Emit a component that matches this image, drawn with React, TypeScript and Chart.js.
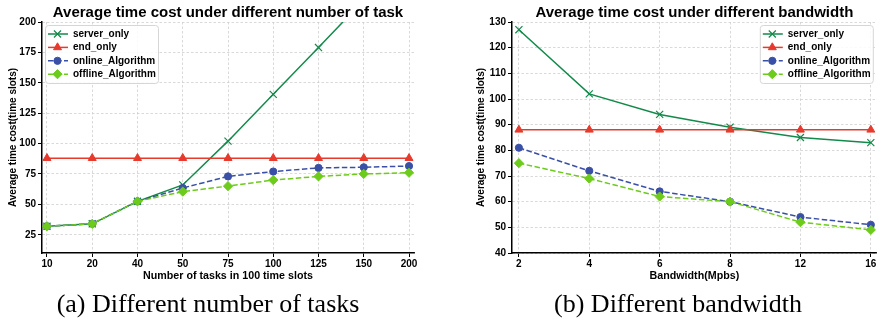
import React, { useEffect, useRef } from 'react';
import { Chart, registerables } from 'chart.js';
import { drawPoint } from 'chart.js/helpers';

Chart.register(...registerables);

// ---------- data: chart (a) ----------
const tasksLabels = ['10', '20', '40', '50', '75', '100', '125', '150', '200'];
const tasksServerOnly = [32, 34, 52.5, 66, 102, 140.5, 179, 218, 260];
const tasksEndOnly = [88, 88, 88, 88, 88, 88, 88, 88, 88];
const tasksOnline = [32, 34, 52.5, 63.5, 73, 77, 80, 80.5, 81.5];
const tasksOffline = [32, 34, 52.5, 60.5, 65, 70, 73, 75, 76];
const tasksYTicks = [25, 50, 75, 100, 125, 150, 175, 200];

// ---------- data: chart (b) ----------
const bwLabels = ['2', '4', '6', '8', '12', '16'];
const bwServerOnly = [127, 102, 94, 89, 85, 83];
const bwEndOnly = [88, 88, 88, 88, 88, 88];
const bwOnline = [81, 72, 64, 60, 54, 51];
const bwOffline = [75, 69, 62, 60, 52, 49];
const bwYTicks = [40, 50, 60, 70, 80, 90, 100, 110, 120, 130];

const seriesNames = ['server_only', 'end_only', 'online_Algorithm', 'offline_Algorithm'];

const SANS = '"Liberation Sans", Arial, sans-serif';

const STYLES = [
  { color: '#138a4b', pointStyle: 'crossRot', radius: 5, dash: [], order: 3, pbw: 1.2 },
  { color: '#e8392d', pointStyle: 'triangle', radius: 4.6, dash: [], order: 2, pbw: 1 },
  { color: '#3a50a6', pointStyle: 'circle', radius: 3.6, dash: [5.5, 2.5], order: 1, pbw: 1 },
  { color: '#6ccb1b', pointStyle: 'rectRot', radius: 4.6, dash: [5.5, 2.5], order: 0, pbw: 1 },
];

const boxLegend = {
  id: 'boxLegend',
  afterDraw(chart: any, _args: any, o: any) {
    const { ctx, chartArea } = chart;
    const w = 113;
    const h = 58;
    const x0 = o.align === 'left' ? chartArea.left + 3 : chartArea.right - 4 - w;
    const y0 = chartArea.top + 3;
    ctx.save();
    ctx.beginPath();
    if (ctx.roundRect) ctx.roundRect(x0 + 0.5, y0 + 0.5, w, h, 3);
    else ctx.rect(x0 + 0.5, y0 + 0.5, w, h);
    ctx.fillStyle = 'rgba(255,255,255,0.85)';
    ctx.fill();
    ctx.strokeStyle = '#d6d6d6';
    ctx.lineWidth = 1;
    ctx.stroke();
    chart.data.datasets.forEach((ds: any, i: number) => {
      const cy = y0 + 9 + i * 13.4;
      ctx.strokeStyle = ds.borderColor;
      ctx.lineWidth = ds.borderWidth;
      ctx.setLineDash(ds.borderDash || []);
      ctx.beginPath();
      ctx.moveTo(x0 + 3, cy);
      ctx.lineTo(x0 + 23, cy);
      ctx.stroke();
      ctx.setLineDash([]);
      ctx.fillStyle = ds.pointBackgroundColor;
      ctx.strokeStyle = ds.pointBorderColor;
      ctx.lineWidth = ds.pointBorderWidth;
      drawPoint(ctx, { pointStyle: ds.pointStyle, radius: ds.pointRadius, borderWidth: ds.pointBorderWidth, rotation: 0 }, x0 + 12.5, cy);
      ctx.fillStyle = '#000';
      ctx.font = 'bold 10px ' + SANS;
      ctx.textBaseline = 'middle';
      ctx.textAlign = 'left';
      ctx.fillText(ds.label, x0 + 28, cy);
    });
    ctx.restore();
  },
};

function makeConfig(p: any) {
  const series = [p.server, p.end, p.online, p.offline];
  const datasets = series.map((vals: number[], si: number) => {
    const s = STYLES[si];
    return {
      label: seriesNames[si],
      data: vals.map((v, i) => ({ x: i, y: v })),
      borderColor: s.color,
      backgroundColor: s.color,
      borderWidth: 1.5,
      borderDash: s.dash,
      pointStyle: s.pointStyle,
      pointRadius: s.radius,
      pointBackgroundColor: s.color,
      pointBorderColor: s.color,
      pointBorderWidth: s.pbw,
      tension: 0,
      order: s.order,
      fill: false,
    };
  });
  const labels: string[] = p.labels;
  const yTicks: number[] = p.yTicks;
  return {
    type: 'line',
    data: { datasets },
    plugins: [boxLegend],
    options: {
      animation: false,
      responsive: false,
      devicePixelRatio: 1,
      layout: { padding: { left: 0, right: p.padRight, top: 0, bottom: 0 } },
      plugins: {
        legend: { display: false },
        tooltip: { enabled: false },
        title: {
          display: true,
          text: p.title,
          color: '#000',
          fullSize: false,
          font: { family: SANS, size: 15, weight: 'bold' },
          padding: { top: 4, bottom: 0 },
        },
        boxLegend: { align: p.legendAlign },
      },
      scales: {
        x: {
          type: 'linear',
          min: p.xMin,
          max: p.xMax,
          afterBuildTicks: (scale: any) => {
            scale.ticks = labels.map((_l, i) => ({ value: i }));
          },
          afterFit: (scale: any) => {
            scale.height = 37;
            scale.paddingLeft = 0;
            scale.paddingRight = 0;
          },
          ticks: {
            autoSkip: false,
            maxRotation: 0,
            color: '#000',
            padding: 1,
            font: { family: SANS, size: 10, weight: 'bold' },
            callback: (v: any) => labels[Math.round(Number(v))],
          },
          grid: { color: '#cfcfcf', lineWidth: 0.8, tickLength: 4, tickColor: '#000', tickWidth: 1 },
          border: { display: true, color: '#000', width: 1.5, dash: [2.5, 2] },
          title: {
            display: true,
            text: p.xTitle,
            color: '#000',
            font: { family: SANS, size: 10.7, weight: 'bold' },
            padding: { top: 0, bottom: 7.6 },
          },
        },
        y: {
          type: 'linear',
          min: p.yMin,
          max: p.yMax,
          afterBuildTicks: (scale: any) => {
            scale.ticks = yTicks.map((v) => ({ value: v }));
          },
          afterFit: (scale: any) => {
            scale.width = p.yAxisWidth;
            scale.paddingTop = 0;
            scale.paddingBottom = 0;
          },
          ticks: {
            color: '#000',
            padding: 2,
            font: { family: SANS, size: 10, weight: 'bold' },
          },
          grid: { color: '#cfcfcf', lineWidth: 0.8, tickLength: 4, tickColor: '#000', tickWidth: 1 },
          border: { display: true, color: '#000', width: 1.5, dash: [2.5, 2] },
          title: {
            display: true,
            text: 'Average time cost(time slots)',
            color: '#000',
            font: { family: SANS, size: 10, weight: 'bold' },
            padding: { top: p.yTitlePad, bottom: 0 },
          },
        },
      },
    },
  };
}

function LineChart(props: any) {
  const ref = useRef<HTMLCanvasElement | null>(null);
  useEffect(() => {
    if (!ref.current) return;
    const chart = new Chart(ref.current, makeConfig(props.cfg) as any);
    return () => chart.destroy();
  }, []);
  return (
    <canvas
      ref={ref}
      width={props.width}
      height={props.height}
      style={{ position: 'absolute', left: props.left, top: 0, width: props.width, height: props.height, display: 'block' }}
    />
  );
}

const captionStyle: any = {
  position: 'absolute',
  top: 291,
  transform: 'translateX(-50%)',
  whiteSpace: 'nowrap',
  fontFamily: '"Liberation Serif", "Times New Roman", serif',
  fontSize: 26,
  lineHeight: '26px',
  color: '#000',
};

export default function App() {
  const cfgA = {
    labels: tasksLabels,
    server: tasksServerOnly,
    end: tasksEndOnly,
    online: tasksOnline,
    offline: tasksOffline,
    yTicks: tasksYTicks,
    yMin: 10,
    yMax: 200,
    xMin: -0.11,
    xMax: 8.11,
    title: 'Average time cost under different number of task',
    xTitle: 'Number of tasks in 100 time slots',
    yAxisWidth: 42,
    yTitlePad: 7,
    padRight: 27,
    legendAlign: 'left',
  };
  const cfgB = {
    labels: bwLabels,
    server: bwServerOnly,
    end: bwEndOnly,
    online: bwOnline,
    offline: bwOffline,
    yTicks: bwYTicks,
    yMin: 40,
    yMax: 130,
    xMin: -0.098,
    xMax: 5.085,
    title: 'Average time cost under different bandwidth',
    xTitle: 'Bandwidth(Mpbs)',
    yAxisWidth: 72,
    yTitlePad: 35,
    padRight: 0,
    legendAlign: 'right',
  };
  return (
    <div style={{ position: 'absolute', left: 0, top: 0, width: 883, height: 324, background: '#fff', overflow: 'hidden' }}>
      <LineChart cfg={cfgA} left={0} width={441} height={290} />
      <LineChart cfg={cfgB} left={440} width={443} height={290} />
      <div style={{ ...captionStyle, left: 208 }}>(a) Different number of tasks</div>
      <div style={{ ...captionStyle, left: 678 }}>(b) Different bandwidth</div>
    </div>
  );
}
